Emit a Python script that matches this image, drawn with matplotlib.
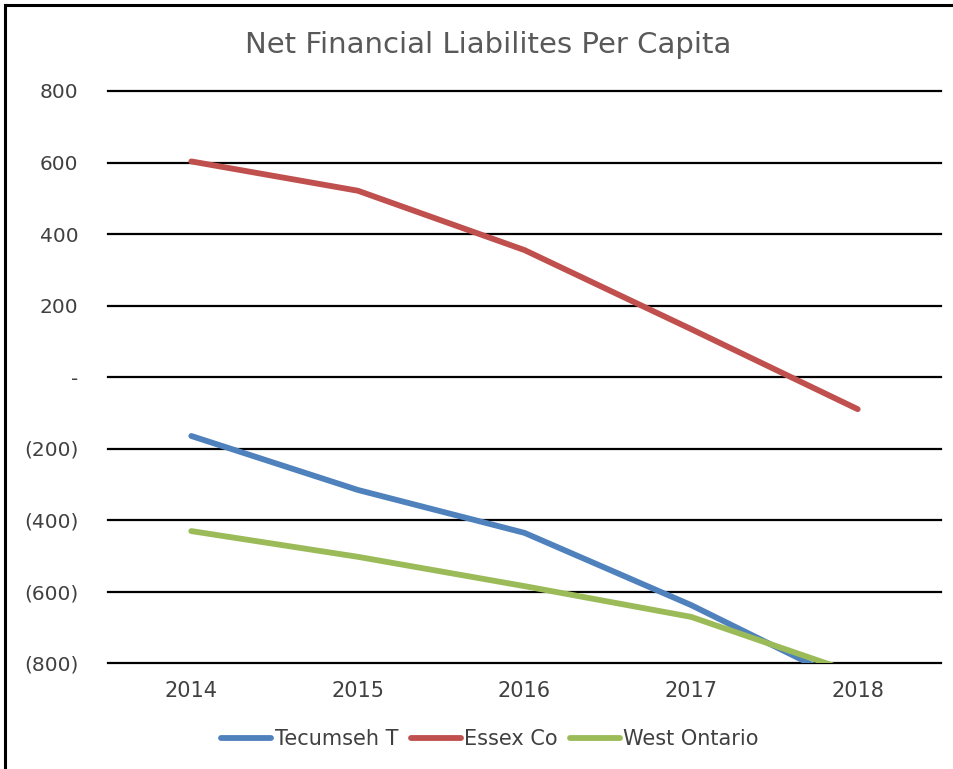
import matplotlib.pyplot as plt
from matplotlib.lines import Line2D
from matplotlib.ticker import FuncFormatter

years = [2014, 2015, 2016, 2017, 2018]
tecumseh = [-165, -316, -436, -638, -868]
essex = [603, 521, 355, 134, -90]
west_ontario = [-431, -503, -585, -671, -831]
y_ticks = [-800, -600, -400, -200, 0, 200, 400, 600, 800]


def accounting(v, pos):
	if v == 0:
		return "-"
	if v < 0:
		return "(%d)" % abs(v)
	return "%d" % v


if __name__ == "__main__":
	fig = plt.figure(figsize = (9.54, 7.69), dpi = 100)
	ax = fig.add_axes([108 / 954, 1 - 663 / 769, (941 - 108) / 954, (663 - 91) / 769])

	ax.plot(years, tecumseh, color = "#4F81BD", linewidth = 4.2, label = "Tecumseh T", solid_capstyle = "round")
	ax.plot(years, essex, color = "#C0504D", linewidth = 4.2, label = "Essex Co", solid_capstyle = "round")
	ax.plot(years, west_ontario, color = "#9BBB59", linewidth = 4.2, label = "West Ontario", solid_capstyle = "round")

	ax.set_xlim(2013.5, 2018.5)
	ax.set_ylim(-800, 800)
	ax.set_xticks(years)
	ax.set_yticks(y_ticks)
	ax.yaxis.set_major_formatter(FuncFormatter(accounting))
	ax.grid(axis = "y", color = "black", linewidth = 1.6)
	ax.set_axisbelow(True)
	for g in ax.get_ygridlines():
		g.set_clip_on(False)
	for s in ax.spines.values():
		s.set_visible(False)
	ax.tick_params(axis = "both", length = 0)
	ax.tick_params(axis = "y", pad = 21.5, labelsize = 14.5, labelcolor = "#404040")
	ax.tick_params(axis = "x", pad = 13, labelsize = 15, labelcolor = "#404040")

	fig.text(488 / 954, 1 - 45 / 769, "Net Financial Liabilites Per Capita", ha = "center", va = "center",
		fontsize = 21, color = "#595959")

	fig.legend(loc = "center", bbox_to_anchor = (490 / 954, 1 - 739 / 769), ncol = 3, frameon = False,
		handlelength = 2.4, handletextpad = 0.15, columnspacing = 0.6,
		prop = {"size": 15}, labelcolor = "#404040")

	# border round the figure
	fig.add_artist(Line2D([5 / 954, 5 / 954], [0, 1 - 5 / 769], transform = fig.transFigure, color = "black", linewidth = 2.2))
	fig.add_artist(Line2D([5 / 954, 1], [1 - 5 / 769, 1 - 5 / 769], transform = fig.transFigure, color = "black", linewidth = 2.2))

	plt.savefig("out.png")
	plt.close()
